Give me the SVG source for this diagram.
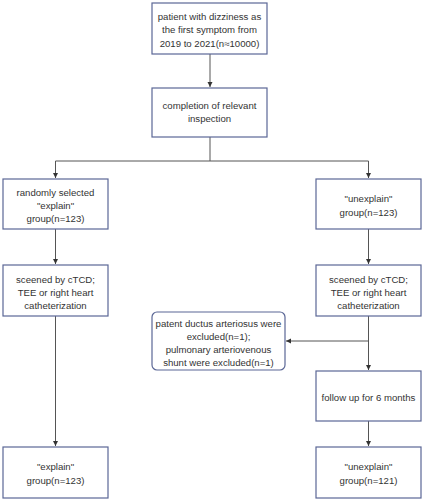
<svg xmlns="http://www.w3.org/2000/svg" width="423" height="500" viewBox="0 0 423 500">
<defs>
<marker id="ah" markerWidth="6" markerHeight="6" refX="5" refY="3" orient="auto" markerUnits="userSpaceOnUse">
<path d="M0,0.5 L5,3 L0,5.5 Z" fill="#333"/>
</marker>
<style>
.box{fill:#fff;stroke:#5b6796;stroke-width:1.2}
.t{font-family:"Liberation Sans",Arial,sans-serif;font-size:9.6px;fill:#333;text-anchor:middle}
.c{fill:none;stroke:#555;stroke-width:1}
</style>
</defs>
<rect width="423" height="500" fill="#fff"/>
<g id="connectors">
<line class="c" x1="210" y1="54" x2="210" y2="87" marker-end="url(#ah)"/>
<polyline class="c" points="210,137 210,161 55.5,161 55.5,178" marker-end="url(#ah)"/>
<polyline class="c" points="210,161 368.5,161 368.5,178" marker-end="url(#ah)"/>
<line class="c" x1="55.5" y1="229" x2="55.5" y2="264" marker-end="url(#ah)"/>
<line class="c" x1="368.5" y1="229" x2="368.5" y2="264" marker-end="url(#ah)"/>
<line class="c" x1="55.5" y1="316" x2="55.5" y2="446" marker-end="url(#ah)"/>
<line class="c" x1="368.5" y1="316" x2="368.5" y2="370" marker-end="url(#ah)"/>
<line class="c" x1="368.5" y1="341" x2="286" y2="341" marker-end="url(#ah)"/>
<line class="c" x1="368.5" y1="421" x2="368.5" y2="446" marker-end="url(#ah)"/>
</g>
<g id="n1"><rect class="box" x="152" y="3" width="115" height="51"/>
<text class="t" x="209.5" y="19.5">patient with dizziness as</text>
<text class="t" x="209.5" y="33">the first symptom from</text>
<text class="t" x="209.5" y="46.5">2019 to 2021(n≈10000)</text></g>
<g id="n2"><rect class="box" x="152" y="88" width="115" height="49"/>
<text class="t" x="209.5" y="108.5">completion of relevant</text>
<text class="t" x="209.5" y="121.5">inspection</text></g>
<g id="n3"><rect class="box" x="3" y="179" width="105" height="50"/>
<text class="t" x="55.5" y="195.5">randomly selected</text>
<text class="t" x="55.5" y="208.5">"explain"</text>
<text class="t" x="55.5" y="221.5">group(n=123)</text></g>
<g id="n4"><rect class="box" x="316" y="179" width="105" height="50"/>
<text class="t" x="368.5" y="201.5">"unexplain"</text>
<text class="t" x="368.5" y="215.5">group(n=123)</text></g>
<g id="n5"><rect class="box" x="3" y="265" width="105" height="51"/>
<text class="t" x="55.5" y="282.5">sceened by cTCD;</text>
<text class="t" x="55.5" y="295.5">TEE or right heart</text>
<text class="t" x="55.5" y="308.5">catheterization</text></g>
<g id="n6"><rect class="box" x="316" y="265" width="105" height="51"/>
<text class="t" x="368.5" y="282.5">sceened by cTCD;</text>
<text class="t" x="368.5" y="295.5">TEE or right heart</text>
<text class="t" x="368.5" y="308.5">catheterization</text></g>
<g id="n7"><rect class="box" x="152" y="312" width="133" height="58" rx="5"/>
<text class="t" x="218.5" y="326.5">patent ductus arteriosus were</text>
<text class="t" x="218.5" y="339.5">excluded(n=1);</text>
<text class="t" x="218.5" y="352.5">pulmonary arteriovenous</text>
<text class="t" x="218.5" y="365.5">shunt were excluded(n=1)</text></g>
<g id="n8"><rect class="box" x="316" y="371" width="105" height="50"/>
<text class="t" x="368.5" y="400.5">follow up for 6 months</text></g>
<g id="n9"><rect class="box" x="3" y="447" width="105" height="51"/>
<text class="t" x="55.5" y="469.5">"explain"</text>
<text class="t" x="55.5" y="484">group(n=123)</text></g>
<g id="n10"><rect class="box" x="316" y="447" width="105" height="51"/>
<text class="t" x="368.5" y="469.5">"unexplain"</text>
<text class="t" x="368.5" y="484">group(n=121)</text></g>
</svg>
